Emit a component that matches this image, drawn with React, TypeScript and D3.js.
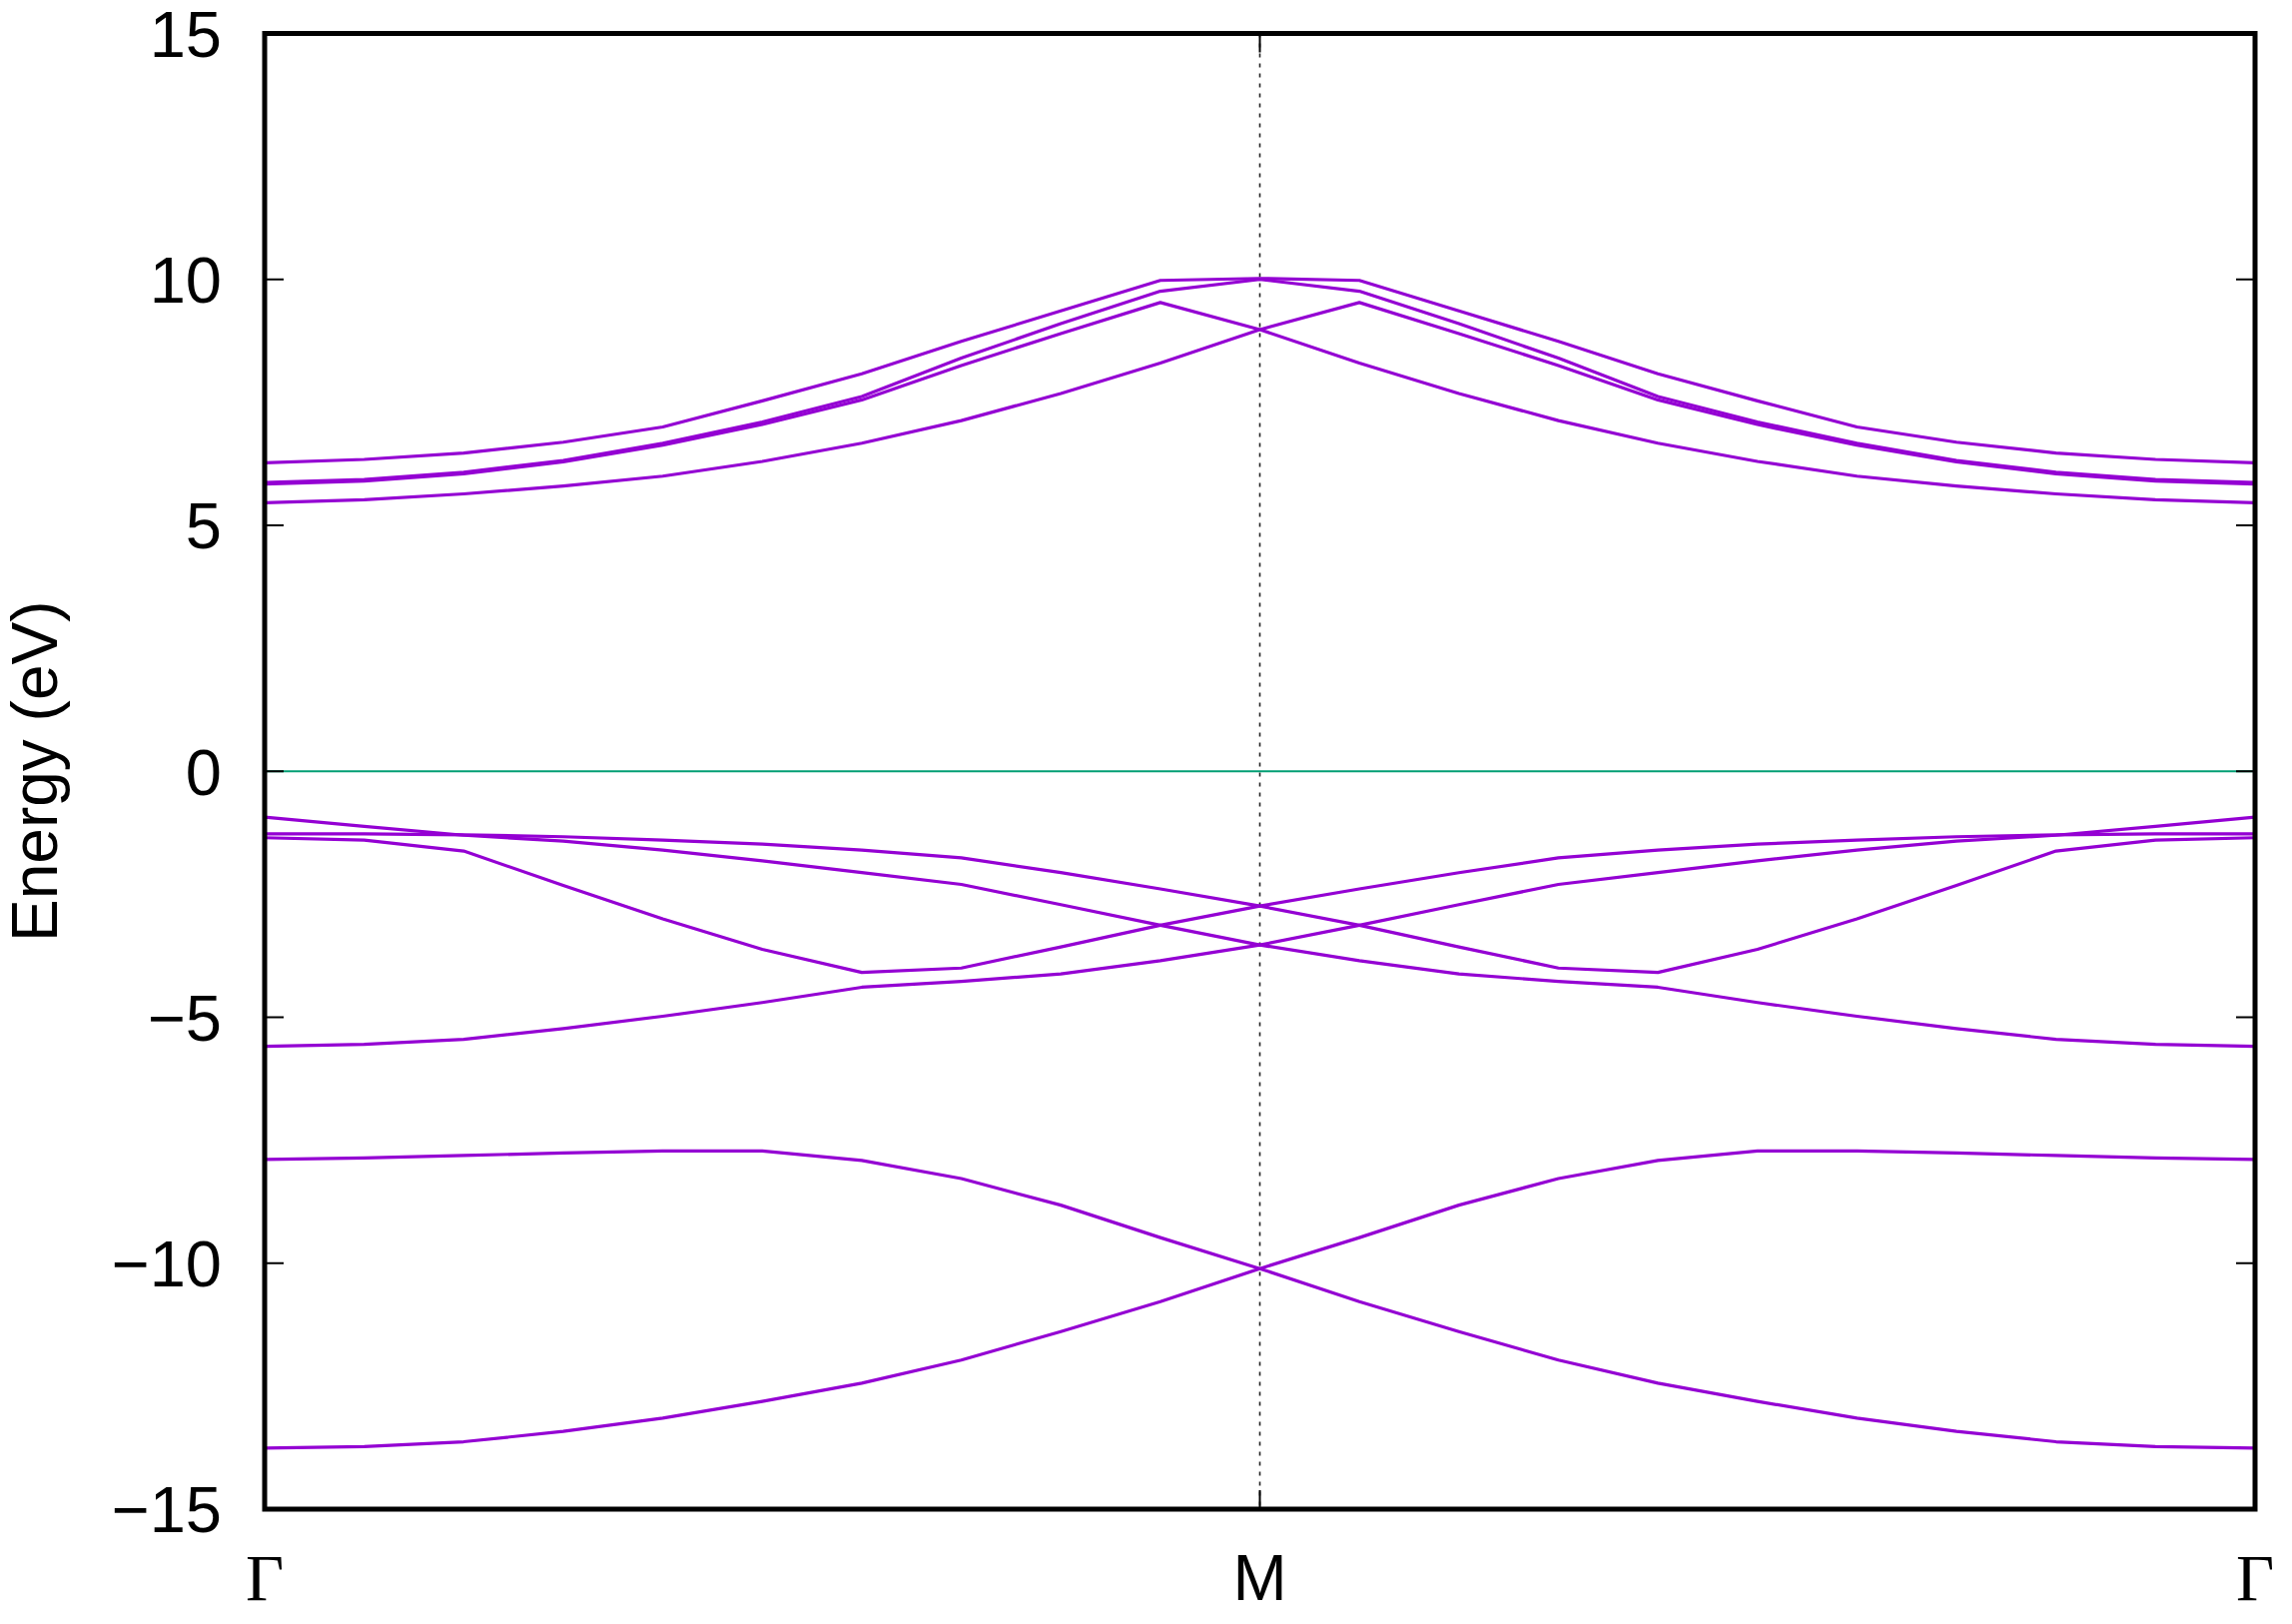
import React from "react";
import * as d3 from "d3";

// ---- data (Γ → M, 11 k-points; path M → Γ is the mirror) ----
const kLabels = ["Γ", "M", "Γ"];
const kLabelIndex = [0, 10, 20];
const yTicks = [-15, -10, -5, 0, 5, 10, 15];
const yDomain: [number, number] = [-15, 15];
const yLabel = "Energy (eV)";

const bandV1 = [-13.76, -13.73, -13.63, -13.42, -13.15, -12.81, -12.44, -11.97, -11.39, -10.78, -10.11];
const bandV2 = [-7.89, -7.86, -7.81, -7.76, -7.72, -7.72, -7.91, -8.28, -8.82, -9.48, -10.11];
const bandV3 = [-5.59, -5.55, -5.45, -5.23, -4.98, -4.7, -4.39, -4.27, -4.12, -3.85, -3.53];
const bandV4 = [-1.35, -1.4, -1.62, -2.32, -3.0, -3.62, -4.09, -4.0, -3.57, -3.13, -2.74];
const bandV5 = [-0.93, -1.12, -1.3, -1.42, -1.6, -1.82, -2.06, -2.3, -2.71, -3.13, -3.53];
const bandV6 = [-1.27, -1.27, -1.29, -1.33, -1.4, -1.48, -1.6, -1.76, -2.06, -2.39, -2.74];
const bandC1 = [5.46, 5.52, 5.64, 5.8, 6.0, 6.3, 6.67, 7.13, 7.68, 8.3, 8.98];
const bandC2 = [5.84, 5.9, 6.05, 6.29, 6.63, 7.05, 7.55, 8.25, 8.9, 9.53, 8.98];
const bandC3 = [5.87, 5.93, 6.08, 6.32, 6.67, 7.1, 7.62, 8.4, 9.1, 9.76, 10.0];
const bandC4 = [6.27, 6.34, 6.47, 6.69, 7.0, 7.53, 8.08, 8.74, 9.36, 9.98, 10.02];

const bands = [bandV1, bandV2, bandV3, bandV4, bandV5, bandV6, bandC1, bandC2, bandC3, bandC4];

const W = 2295;
const H = 1626;
const left = 265;
const right = 2258;
const top = 33.5;
const bottom = 1511;

export default function App() {
  const x = d3.scaleLinear().domain([0, 20]).range([left, right]);
  const y = d3.scaleLinear().domain(yDomain).range([bottom, top]);
  const line = d3
    .line<[number, number]>()
    .x((d) => x(d[0]))
    .y((d) => y(d[1]));

  const full = (b: number[]) => {
    const vals = b.concat(b.slice(0, b.length - 1).reverse());
    return vals.map((v, i) => [i, v] as [number, number]);
  };

  const fmt = (v: number) => (v < 0 ? "\u2212" + Math.abs(v) : String(v));
  const sans = "'Liberation Sans', Arial, Helvetica, sans-serif";
  const serif = "'Liberation Serif', 'Times New Roman', serif";
  const tickLen = 19;

  return (
    <svg
      width={W}
      height={H}
      style={{ position: "absolute", left: 0, top: 0, background: "#fff" }}
    >
      <rect x={0} y={0} width={W} height={H} fill="#fff" />
      {/* M vertical dotted line */}
      <line
        x1={x(10)}
        x2={x(10)}
        y1={top}
        y2={bottom}
        stroke="#222"
        strokeWidth={1.6}
        strokeDasharray="4,6"
      />
      {/* Fermi level */}
      <line x1={left} x2={right} y1={y(0)} y2={y(0)} stroke="#009e73" strokeWidth={1.8} />
      {/* bands */}
      {bands.map((b, i) => (
        <path key={i} d={line(full(b)) || ""} fill="none" stroke="#9400d3" strokeWidth={3.2} strokeLinejoin="round" />
      ))}
      {/* y ticks */}
      {yTicks.map((t) => (
        <g key={t}>
          <line x1={left} x2={left + tickLen} y1={y(t)} y2={y(t)} stroke="#000" strokeWidth={2} />
          <line x1={right} x2={right - tickLen} y1={y(t)} y2={y(t)} stroke="#000" strokeWidth={2} />
          <text
            x={222}
            y={y(t)}
            dy="0.36em"
            textAnchor="end"
            fontFamily={sans}
            fontSize={65}
            fill="#000"
          >
            {fmt(t)}
          </text>
        </g>
      ))}
      {/* x ticks and labels */}
      {kLabelIndex.map((k, i) => (
        <g key={i}>
          <line x1={x(k)} x2={x(k)} y1={bottom} y2={bottom - tickLen} stroke="#000" strokeWidth={2} />
          <line x1={x(k)} x2={x(k)} y1={top} y2={top + tickLen} stroke="#000" strokeWidth={2} />
          <text
            x={x(k)}
            y={1602}
            textAnchor="middle"
            fontFamily={kLabels[i] === "Γ" ? serif : sans}
            fontSize={kLabels[i] === "Γ" ? 66 : 65}
            fill="#000"
          >
            {kLabels[i]}
          </text>
        </g>
      ))}
      {/* border */}
      <rect x={left} y={top} width={right - left} height={bottom - top} fill="none" stroke="#000" strokeWidth={5} />
      {/* y label */}
      <text
        transform={`translate(57, ${(top + bottom) / 2}) rotate(-90)`}
        textAnchor="middle"
        fontFamily={sans}
        fontSize={64}
        fill="#000"
      >
        {yLabel}
      </text>
    </svg>
  );
}
